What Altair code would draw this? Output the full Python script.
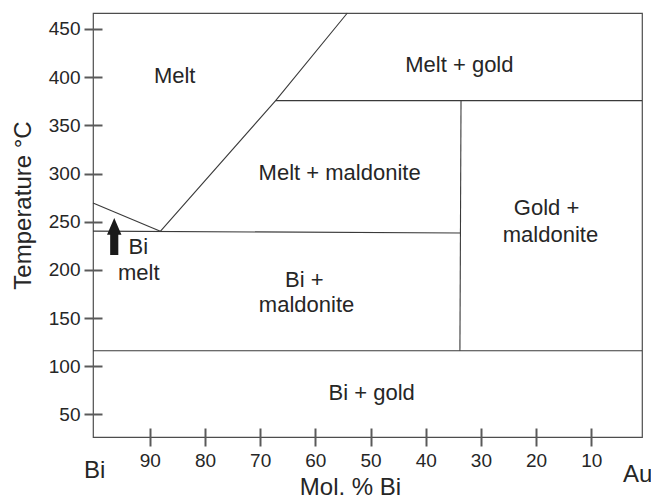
import altair as alt
import pandas as pd

# ---- data (x = Mol. % Bi, y = Temperature °C) ----
seg_id = ["liq_bi", "liq_bi", "liq_au", "liq_au", "liq_au", "eut", "eut",
          "vert", "vert", "perit", "perit", "decomp", "decomp"]
seg_x = [100.3, 88.1, 88.1, 67.2, 54.2, 100.3, 33.6,
         33.6, 33.8, 67.2, 0.8, 100.3, 0.8]
seg_y = [269.5, 240.0, 240.0, 375.6, 466.6, 240.2, 238.3,
         375.6, 116.1, 375.6, 375.6, 116.1, 116.1]

label_text = ["Melt", "Melt + gold", "Melt + maldonite", "Gold +", "maldonite",
              "Bi +", "maldonite", "Bi + gold", "Bi", "melt"]
label_x = [85.5, 33.9, 55.6, 18.1, 17.4, 62.0, 61.6, 49.8, 92.1, 92.0]
label_y = [401.5, 412.9, 300.8, 264.3, 236.4, 189.8, 163.7, 72.5, 223.5, 196.6]

end_text = ["Bi", "Au"]
end_x = [100.0, 1.6]
end_y = [-9.0, -13.0]

arrow_x = [96.45]
arrow_y = [234.7]

x_ticks = [90, 80, 70, 60, 50, 40, 30, 20, 10]
y_ticks = [50, 100, 150, 200, 250, 300, 350, 400, 450]

x_domain = [100.3, 0.8]
y_domain = [26.5, 466.6]

# ---- tables ----
segs = pd.DataFrame({"seg": seg_id, "x": seg_x, "y": seg_y,
                     "ord": list(range(len(seg_id)))})
labels = pd.DataFrame({"t": label_text, "x": label_x, "y": label_y})
ends = pd.DataFrame({"t": end_text, "x": end_x, "y": end_y})
arrow = pd.DataFrame({"x": arrow_x, "y": arrow_y})

FONT = "Liberation Sans"
TXT = "#262626"
TICK = "#5a5a5a"
xs = alt.Scale(domain=x_domain, nice=False, zero=False)
ys = alt.Scale(domain=y_domain, nice=False, zero=False)

x_axis = alt.Axis(values=x_ticks, orient="bottom", offset=-9, tickSize=18,
                  tickWidth=2, tickColor=TICK, domain=False, grid=False,
                  labelFontSize=19, labelColor=TXT, labelPadding=5, labelFont=FONT,
                  title="Mol. % Bi", titleFontSize=24, titleFontWeight="normal",
                  titleColor=TXT, titleFont=FONT, titleX=257, titleY=59,
                  titleAlign="center", titleBaseline="middle")
y_axis = alt.Axis(values=y_ticks, orient="left", offset=-9, tickSize=18,
                  tickWidth=2, tickColor=TICK, domain=False, grid=False,
                  labelFontSize=19, labelColor=TXT, labelPadding=4, labelFont=FONT,
                  title="Temperature °C", titleFontSize=24, titleFontWeight="normal",
                  titleColor=TXT, titleFont=FONT, titleAngle=270, titleX=-79,
                  titleY=192, titleAlign="center", titleBaseline="middle")

X = alt.X("x:Q", scale=xs, axis=x_axis)
Y = alt.Y("y:Q", scale=ys, axis=y_axis)

lines = alt.Chart(segs).mark_line(color="#3a3a3a", strokeWidth=1.1).encode(
    x=X, y=Y, detail="seg:N", order="ord:Q",
)

texts = alt.Chart(labels).mark_text(fontSize=22, font=FONT, color=TXT,
                                    align="center", baseline="middle").encode(
    x=X, y=Y, text="t:N",
)

end_labels = alt.Chart(ends).mark_text(fontSize=24, font=FONT, color=TXT,
                                       align="center", baseline="middle",
                                       clip=False).encode(
    x=X, y=Y, text="t:N",
)

arrow_path = "M0,-1L0.39,-0.09L0.22,-0.09L0.22,1L-0.22,1L-0.22,-0.09L-0.39,-0.09Z"
arrow_mark = alt.Chart(arrow).mark_point(shape=arrow_path, size=1369, filled=True,
                                         fill="#1a1a1a", opacity=1,
                                         strokeWidth=0).encode(
    x=X, y=Y,
)

chart = alt.layer(lines, texts, end_labels, arrow_mark).properties(
    width=549, height=424,
    autosize=alt.AutoSizeParams(type="none"),
    padding={"left": 85, "top": 5, "right": 9, "bottom": 62},
).configure(font=FONT).configure_view(stroke="#4d4d4d", strokeWidth=1.2)

chart.save("out.html", embed_options={"renderer": "svg", "actions": False})
